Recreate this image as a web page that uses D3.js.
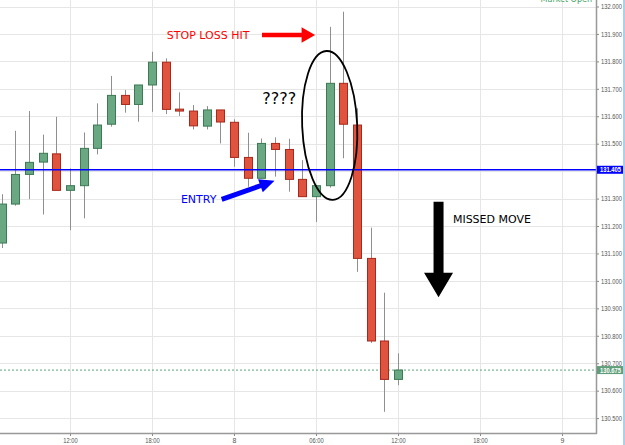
<!DOCTYPE html>
<html>
<head>
<meta charset="utf-8">
<script src="https://cdn.jsdelivr.net/npm/d3@7"></script>
<style>
  body { margin: 0; background: #fff; }
  svg { display: block; }
</style>
</head>
<body>
<div id="chart"></div>
<script>
// hourly candles, day 7 07:00 .. day 8 12:00
var times = ["2017-03-07 07:00", "2017-03-07 08:00", "2017-03-07 09:00", "2017-03-07 10:00", "2017-03-07 11:00",
    "2017-03-07 12:00", "2017-03-07 13:00", "2017-03-07 14:00", "2017-03-07 15:00", "2017-03-07 16:00",
    "2017-03-07 17:00", "2017-03-07 18:00", "2017-03-07 19:00", "2017-03-07 20:00", "2017-03-07 21:00",
    "2017-03-07 22:00", "2017-03-07 23:00", "2017-03-08 00:00", "2017-03-08 01:00", "2017-03-08 02:00",
    "2017-03-08 03:00", "2017-03-08 04:00", "2017-03-08 05:00", "2017-03-08 06:00", "2017-03-08 07:00",
    "2017-03-08 08:00", "2017-03-08 09:00", "2017-03-08 10:00", "2017-03-08 11:00", "2017-03-08 12:00"];
var opens  = [131.138, 131.280, 131.388, 131.433, 131.463, 131.330, 131.347, 131.483, 131.571, 131.676,
    131.643, 131.714, 131.797, 131.626, 131.619, 131.564, 131.623, 131.578, 131.450, 131.374,
    131.501, 131.479, 131.370, 131.307, 131.347, 131.720, 131.568, 131.082, 130.781, 130.641];
var highs  = [131.316, 131.547, 131.619, 131.533, 131.598, 131.410, 131.541, 131.647, 131.747, 131.696,
    131.714, 131.835, 131.811, 131.687, 131.641, 131.637, 131.623, 131.589, 131.540, 131.519,
    131.523, 131.518, 131.440, 131.347, 131.926, 131.981, 131.629, 131.194, 130.957, 130.736];
var lows   = [131.120, 131.274, 131.298, 131.242, 131.330, 131.185, 131.228, 131.461, 131.562, 131.613,
    131.580, 131.616, 131.608, 131.601, 131.552, 131.552, 131.501, 131.416, 131.343, 131.374,
    131.380, 131.325, 131.307, 131.215, 131.340, 131.447, 131.033, 130.774, 130.523, 130.620];
var closes = [131.280, 131.388, 131.432, 131.465, 131.330, 131.347, 131.483, 131.568, 131.676, 131.643,
    131.714, 131.797, 131.625, 131.619, 131.565, 131.623, 131.579, 131.450, 131.374, 131.501,
    131.479, 131.370, 131.307, 131.347, 131.720, 131.571, 131.082, 130.781, 130.641, 130.675];

var tickTimes = ["2017-03-07 12:00", "2017-03-07 18:00", "2017-03-08 00:00", "2017-03-08 06:00",
    "2017-03-08 12:00", "2017-03-08 18:00", "2017-03-09 00:00"];
var priceTicks = [130.5, 130.6, 130.7, 130.8, 130.9, 131.0, 131.1, 131.2, 131.3, 131.4,
    131.5, 131.6, 131.7, 131.8, 131.9, 132.0];
var entryPrice = 131.405;
var lastPrice = 130.675;

// annotations, placed in time / price units
var stopNote  = {t: "2017-03-07 19:05", p: 131.883, text: "STOP LOSS HIT"};
var stopArrow = {t1: "2017-03-08 02:03", t2: "2017-03-08 05:56", p1: 131.896, p2: 131.896};
var quesNote  = {t: "2017-03-08 02:04", p: 131.643, text: "????"};
var circle    = {t: "2017-03-08 07:00", top: 131.838, bottom: 131.295};
var entryNote = {t: "2017-03-07 20:07", p: 131.283, text: "ENTRY"};
var entryArrow = {t1: "2017-03-07 23:06", t2: "2017-03-08 02:58", p1: 131.297, p2: 131.365};
var moveArrow = {t1: "2017-03-08 14:58", t2: "2017-03-08 14:58", p1: 131.288, p2: 130.940};
var moveNote  = {t: "2017-03-08 16:01", p: 131.212, text: "MISSED MOVE"};

var W = 625, H = 445, plotR = 596, plotB = 433;
var parse = d3.timeParse("%Y-%m-%d %H:%M");
var axisFont = "'Liberation Sans', Arial, sans-serif";
var noteFont = "'DejaVu Sans', Verdana, sans-serif";

var candles = times.map(function (t, i) {
    return {t: parse(t), o: opens[i], h: highs[i], l: lows[i], c: closes[i]};
});

var x = d3.scaleTime()
    .domain([parse(tickTimes[0]), parse(tickTimes[tickTimes.length - 1])])
    .range([70, 562]);
var y = d3.scaleLinear().domain([130.5, 132]).range([418.1, 6.5]);

var svg = d3.select("#chart").append("svg")
    .attr("width", W)
    .attr("height", H);

svg.append("defs").append("clipPath").attr("id", "plot")
    .append("rect").attr("x", 0).attr("y", 0).attr("width", plotR).attr("height", plotB);

var plot = svg.append("g").attr("clip-path", "url(#plot)");

// grid
plot.selectAll(".hgrid").data(priceTicks).enter().append("line")
    .attr("x1", 0).attr("x2", plotR)
    .attr("y1", d => Math.round(y(d)) + 0.5).attr("y2", d => Math.round(y(d)) + 0.5)
    .attr("stroke", "#e6e6e6");
plot.selectAll(".vgrid").data(tickTimes).enter().append("line")
    .attr("x1", d => Math.round(x(parse(d))) + 0.5).attr("x2", d => Math.round(x(parse(d))) + 0.5)
    .attr("y1", 0).attr("y2", plotB)
    .attr("stroke", "#e6e6e6");

// last price line
plot.append("line")
    .attr("x1", 0).attr("x2", plotR)
    .attr("y1", y(lastPrice)).attr("y2", y(lastPrice))
    .attr("stroke", "#5aa57a")
    .attr("stroke-dasharray", "2,2");

// candles
var cg = plot.selectAll(".candle").data(candles).enter().append("g");
cg.append("line")
    .attr("x1", d => Math.round(x(d.t)) + 0.5).attr("x2", d => Math.round(x(d.t)) + 0.5)
    .attr("y1", d => y(d.h)).attr("y2", d => y(d.l))
    .attr("stroke", "#8f8f8f");
cg.append("rect")
    .attr("x", d => Math.round(x(d.t)) - 3.5)
    .attr("width", 8)
    .attr("y", d => y(Math.max(d.o, d.c)))
    .attr("height", d => Math.max(1, Math.abs(y(d.o) - y(d.c))))
    .attr("fill", d => d.c >= d.o ? "#6aa884" : "#e0543f")
    .attr("stroke", d => d.c >= d.o ? "#3b7a52" : "#a8281a")
    .attr("stroke-width", 1);

// entry line
plot.append("line")
    .attr("x1", 0).attr("x2", plotR)
    .attr("y1", y(entryPrice)).attr("y2", y(entryPrice))
    .attr("stroke", "#0000ff")
    .attr("stroke-width", 1.3);

// axes
var yAxis = d3.axisRight(y)
    .tickValues(priceTicks.filter(d => Math.abs(d - 131.4) > 0.001))
    .tickSize(3)
    .tickFormat(d3.format(".3f"));
var gy = svg.append("g").attr("transform", "translate(" + plotR + ",0)").call(yAxis);
gy.select(".domain").remove();
gy.selectAll("line").attr("stroke", "#888");
gy.selectAll("text").attr("font-family", axisFont).attr("font-size", "7px").attr("fill", "#555")
    .attr("x", 5)
    .attr("textLength", 21).attr("lengthAdjust", "spacingAndGlyphs");

var xAxis = d3.axisBottom(x)
    .tickValues(tickTimes.map(parse))
    .tickSize(3)
    .tickFormat(d => d.getHours() === 0 ? d3.timeFormat("%-d")(d) : d3.timeFormat("%H:%M")(d));
var gx = svg.append("g").attr("transform", "translate(0," + plotB + ")").call(xAxis);
gx.select(".domain").remove();
gx.selectAll("line").attr("stroke", "#888");
gx.selectAll("text").attr("font-family", axisFont).attr("font-size", "7px").attr("fill", "#555")
    .attr("y", 5.5)
    .each(function (d) {
        if (d.getHours() !== 0) d3.select(this).attr("textLength", 14.5).attr("lengthAdjust", "spacingAndGlyphs");
    });

svg.append("line").attr("x1", plotR + 0.5).attr("x2", plotR + 0.5).attr("y1", 0).attr("y2", plotB + 1)
    .attr("stroke", "#999").attr("stroke-width", 1.5);
svg.append("line").attr("x1", 0).attr("x2", plotR + 1).attr("y1", plotB + 0.5).attr("y2", plotB + 0.5)
    .attr("stroke", "#999").attr("stroke-width", 1.5);

// price boxes
function priceBox(p, fill) {
    var g = svg.append("g").attr("transform", "translate(" + (plotR + 1) + "," + y(p) + ")");
    g.append("rect").attr("x", 0).attr("y", -4).attr("width", 26).attr("height", 8).attr("fill", fill);
    g.append("text").attr("x", 3).attr("dy", "0.35em")
        .attr("font-family", axisFont).attr("font-size", "7px").attr("font-weight", "bold")
        .attr("fill", "#fff")
        .attr("textLength", 21).attr("lengthAdjust", "spacingAndGlyphs")
        .text(d3.format(".3f")(p));
}
priceBox(entryPrice, "#0000ff");
priceBox(lastPrice, "#5f9e78");

svg.append("rect").attr("x", 623).attr("y", 0).attr("width", 2).attr("height", H).attr("fill", "#a9d1ec");

svg.append("text")
    .attr("x", 592).attr("y", 1.5)
    .attr("text-anchor", "end")
    .attr("font-family", noteFont).attr("font-size", "8px")
    .attr("fill", "#3f9f62")
    .text("Market Open");

// annotations
function arrow(a, sw, hl, hw, color) {
    var x1 = x(parse(a.t1)), y1 = y(a.p1), x2 = x(parse(a.t2)), y2 = y(a.p2);
    var len = Math.hypot(x2 - x1, y2 - y1), ux = (x2 - x1) / len, uy = (y2 - y1) / len;
    var nx = -uy, ny = ux;
    var bx = x2 - ux * hl, by = y2 - uy * hl;
    var pts = [
        [x1 + nx * sw / 2, y1 + ny * sw / 2],
        [bx + nx * sw / 2, by + ny * sw / 2],
        [bx + nx * hw / 2, by + ny * hw / 2],
        [x2, y2],
        [bx - nx * hw / 2, by - ny * hw / 2],
        [bx - nx * sw / 2, by - ny * sw / 2],
        [x1 - nx * sw / 2, y1 - ny * sw / 2]
    ];
    svg.append("path").attr("d", "M" + pts.join("L") + "Z").attr("fill", color);
}

function note(n, size, color) {
    svg.append("text")
        .attr("x", x(parse(n.t))).attr("y", y(n.p))
        .attr("font-family", noteFont).attr("font-size", size)
        .attr("fill", color)
        .text(n.text);
}

note(stopNote, "11px", "#ff0000");
arrow(stopArrow, 4.6, 13.5, 15.4, "#ff0000");
note(quesNote, "16px", "#000");
note(entryNote, "11px", "#0000ff");
arrow(entryArrow, 5, 15, 14, "#0000ff");
arrow(moveArrow, 10, 24.6, 29, "#000");
note(moveNote, "11px", "#000");

var ecx = x(parse(circle.t)), ecy = (y(circle.top) + y(circle.bottom)) / 2;
svg.append("ellipse")
    .attr("cx", ecx).attr("cy", ecy)
    .attr("rx", 27.5).attr("ry", (y(circle.bottom) - y(circle.top)) / 2)
    .attr("transform", "rotate(-2.5," + ecx + "," + ecy + ")")
    .attr("fill", "none")
    .attr("stroke", "#000")
    .attr("stroke-width", 1.8);
</script>
</body>
</html>
